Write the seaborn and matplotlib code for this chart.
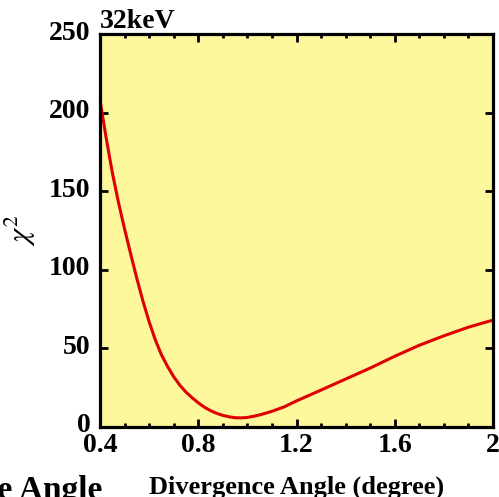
import matplotlib
matplotlib.use("Agg")
import matplotlib.pyplot as plt
import matplotlib.transforms as mtransforms
from matplotlib.ticker import MultipleLocator
import seaborn as sns
import pandas as pd

# Data
angle = [0.40, 0.425, 0.45, 0.475, 0.50, 0.525, 0.55, 0.575, 0.60, 0.625, 0.65,
         0.675, 0.70, 0.725, 0.75, 0.775, 0.80, 0.825, 0.85, 0.875, 0.90, 0.925,
         0.95, 0.975, 1.00, 1.025, 1.05, 1.075, 1.10, 1.15, 1.20,
         1.30, 1.40, 1.50, 1.60, 1.70, 1.80, 1.90, 2.00]
chi2 = [208, 184, 162, 143, 126, 110, 94.5, 80, 67, 55.5, 46,
        38.5, 32.0, 26.6, 22.2, 18.6, 15.4, 12.6, 10.4, 8.7, 7.4, 6.5,
        5.9, 5.8, 6.1, 6.8, 7.7, 8.8, 10.0, 12.8, 16.6,
        23.5, 30.5, 37.5, 45.0, 52.0, 58.0, 63.5, 68.0]
x_ticks = [0.4, 0.8, 1.2, 1.6, 2.0]
x_tick_labels = ["0.4", "0.8", "1.2", "1.6", "2"]
y_ticks = [0, 50, 100, 150, 200, 250]
y_tick_labels = ["0", "50", "100", "150", "200", "250"]
title_text = "32keV"
x_label = "Divergence Angle (degree)"
stray_label = "Divergence Angle"

df = pd.DataFrame({"angle": angle, "chi2": chi2})

sns.set_theme(style="ticks")
plt.rcParams["font.family"] = ["Liberation Serif", "DejaVu Serif"]
plt.rcParams["mathtext.fontset"] = "stix"

fig = plt.figure(figsize=(4.99, 4.97), dpi=100)
ax = fig.add_axes([100 / 499, 1 - 427 / 497, 393 / 499, 393 / 497])
ax.set_facecolor("#fdf89c")

sns.lineplot(data=df, x="angle", y="chi2", ax=ax, color="#e00000", linewidth=2.2)

ax.set_xlim(0.4, 2.0)
ax.set_ylim(0, 250)
ax.set_xticks(x_ticks)
ax.set_xticklabels(x_tick_labels)
ax.set_yticks(y_ticks)
ax.set_yticklabels(y_tick_labels)
ax.xaxis.set_minor_locator(MultipleLocator(0.1))

for sp in ax.spines.values():
    sp.set_linewidth(2.3)
    sp.set_color("black")
    sp.set_visible(True)

ax.tick_params(axis="both", which="major", direction="in", length=5.5, width=2,
               top=True, right=True, labelsize=20, color="black")
ax.tick_params(axis="x", which="minor", direction="in", length=3, width=2,
               top=True, bottom=True, color="black")
ax.tick_params(axis="x", which="major", pad=4.5)
ax.tick_params(axis="y", which="major", pad=7)
for lab in ax.get_xticklabels() + ax.get_yticklabels():
    lab.set_fontweight("bold")
    lab.set_color("black")

offset = mtransforms.ScaledTranslation(0, 4 / 100, fig.dpi_scale_trans)
for lab in ax.get_yticklabels():
    lab.set_transform(lab.get_transform() + offset)

ax.set_xlabel(x_label, fontsize=19, fontweight="bold", labelpad=12.5, color="black")
ax.set_ylabel(r"$\chi^2$", fontsize=22, labelpad=8, color="black")

ax.text(0.0, 1.016, title_text, transform=ax.transAxes, fontsize=20,
        fontweight="bold", ha="left", va="baseline", color="black")

fig.text(102 / 499, -0.004, stray_label, fontsize=24, fontweight="bold",
         ha="right", va="baseline", color="black")

fig.savefig("out.png", dpi=100)
